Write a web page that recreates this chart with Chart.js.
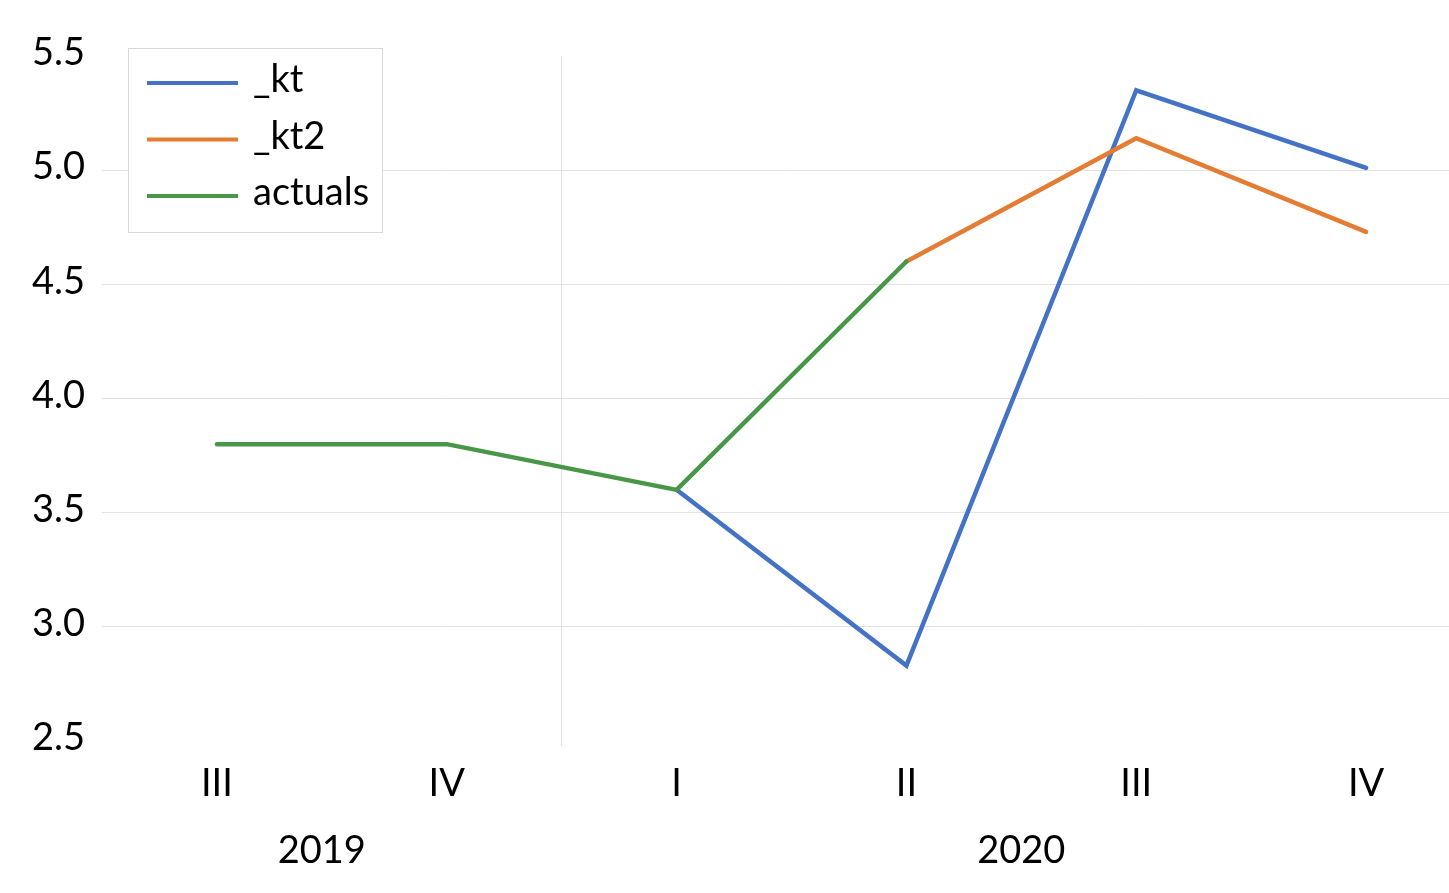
<!DOCTYPE html>
<html>
<head>
<meta charset="utf-8">
<script src="https://cdn.jsdelivr.net/npm/chart.js@4"></script>
<style>
  html, body { margin: 0; padding: 0; background: #fff; overflow: hidden; }
  #wrap { width: 1490px; height: 893px; position: relative; }
</style>
</head>
<body>
<div id="wrap"><canvas id="myChart"></canvas></div>
<script>
var quarters = ['III', 'IV', 'I', 'II', 'III', 'IV'];
var years = ['2019', '2020'];
var yearSpans = [[0, 1], [2, 5]];   // first and last quarter index of each year

var ktData = [null, null, 3.6, 2.83, 5.35, 5.01];
var kt2Data = [null, null, null, 4.6, 5.14, 4.73];
var actualsData = [3.8, 3.8, 3.6, 4.6, null, null];

var fontFamily = 'Lato, "Open Sans", sans-serif';
var fontSize = 38;

// year labels under the quarter labels
var yearLabels = {
	id: 'yearLabels',
	afterDraw: function(chart) {
		var ctx = chart.ctx;
		var xs = chart.scales.x;
		ctx.save();
		ctx.font = fontSize + 'px ' + fontFamily;
		ctx.fillStyle = '#000';
		ctx.textAlign = 'center';
		ctx.textBaseline = 'middle';
		for (var i = 0; i < years.length; i++) {
			var a = xs.getPixelForValue(yearSpans[i][0]);
			var b = xs.getPixelForValue(yearSpans[i][1]);
			var x = (a + b) / 2;
			if (i == 0) x -= 10;
			ctx.fillText(years[i], x, 851);
		}
		ctx.restore();
	}
};

// excel style legend box in the top left corner
var boxLegend = {
	id: 'boxLegend',
	afterDraw: function(chart) {
		var ctx = chart.ctx;
		var items = chart.data.datasets;
		ctx.save();
		ctx.fillStyle = '#fff';
		ctx.fillRect(128.5, 48.5, 254, 184);
		ctx.strokeStyle = '#d9d9d9';
		ctx.lineWidth = 1;
		ctx.strokeRect(128.5, 48.5, 254, 184);
		ctx.font = fontSize + 'px ' + fontFamily;
		ctx.textBaseline = 'middle';
		ctx.textAlign = 'left';
		for (var i = 0; i < items.length; i++) {
			var y = 83 + i * 56.5;
			ctx.strokeStyle = items[i].borderColor;
			ctx.lineWidth = 4;
			ctx.beginPath();
			ctx.moveTo(147, y);
			ctx.lineTo(238, y);
			ctx.stroke();
			ctx.fillStyle = '#000';
			ctx.fillText(items[i].label, 253, y - 3);
		}
		ctx.restore();
	}
};

var ctx = document.getElementById('myChart').getContext('2d');
var chart = new Chart(ctx, {
	type: 'line',
	data: {
		labels: quarters,
		datasets: [{
				label: '_kt',
				data: ktData,
				borderColor: '#4472C4',
				backgroundColor: '#4472C4',
				order: 2
			},
			{
				label: '_kt2',
				data: kt2Data,
				borderColor: '#E47C34',
				backgroundColor: '#E47C34',
				order: 1
			},
			{
				label: 'actuals',
				data: actualsData,
				borderColor: '#489647',
				backgroundColor: '#489647',
				order: 0
			}
		]
	},
	plugins: [yearLabels, boxLegend],
	options: {
		responsive: true,
		maintainAspectRatio: false,
		animation: false,
		layout: {
			padding: { top: 56, right: 9, left: 0, bottom: 0 }
		},
		elements: {
			line: { borderWidth: 4.5, tension: 0, borderCapStyle: 'round', borderJoinStyle: 'miter' },
			point: { radius: 0, hoverRadius: 0 }
		},
		plugins: {
			legend: { display: false },
			tooltip: { enabled: false }
		},
		scales: {
			x: {
				offset: true,
				grid: {
					offset: true,
					tickLength: 5,
					color: function(c) { return c.index === 2 ? '#e3e3e3' : 'rgba(0,0,0,0)'; }
				},
				border: { display: false },
				ticks: {
					color: '#000',
					padding: 15,
					font: { family: fontFamily, size: fontSize }
				},
				afterFit: function(scale) { scale.height = 152; }
			},
			y: {
				min: 2.5,
				max: 5.5,
				grid: {
					drawTicks: false,
					color: function(c) {
						var v = c.tick ? c.tick.value : 0;
						return (v <= 2.5 || v >= 5.5) ? 'rgba(0,0,0,0)' : '#e3e3e3';
					}
				},
				border: { display: false },
				ticks: {
					stepSize: 0.5,
					color: '#000',
					padding: 17,
					labelOffset: -3,
					font: { family: fontFamily, size: fontSize },
					callback: function(v) { return v.toFixed(1); }
				},
				afterFit: function(scale) { scale.width = 102; }
			}
		}
	}
});
</script>
</body>
</html>
